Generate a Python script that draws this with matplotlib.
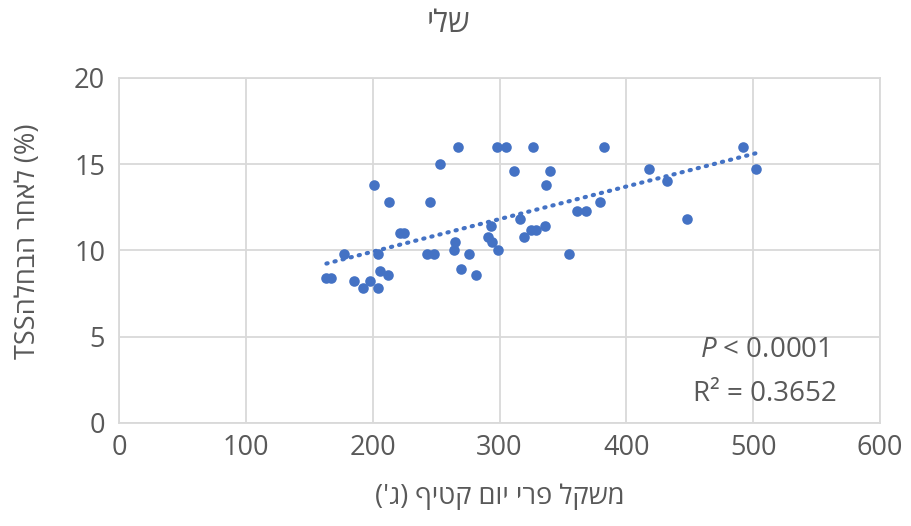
import numpy as np
import matplotlib
matplotlib.use("Agg")
import matplotlib.pyplot as plt

# ---- data ----
fruit_weight = [201, 213, 221.5, 224.5, 177, 204, 163.5, 167.5, 185, 198, 206, 212, 192.5, 204,
                267, 298, 305, 326, 382, 492,
                253, 311.5, 340, 336.5, 417.5, 432, 502,
                245, 379, 361, 368, 448, 316.5,
                293, 336, 325, 329, 319, 291, 294, 265,
                242.5, 248, 276, 355, 264, 299, 270, 281.5]
tss = [13.8, 12.8, 11.0, 11.0, 9.8, 9.8, 8.4, 8.4, 8.2, 8.2, 8.8, 8.6, 7.8, 7.8,
       16, 16, 16, 16, 16, 16,
       15, 14.6, 14.6, 13.8, 14.7, 14.0, 14.7,
       12.8, 12.8, 12.3, 12.3, 11.8, 11.8,
       11.4, 11.4, 11.2, 11.2, 10.8, 10.8, 10.5, 10.5,
       9.8, 9.8, 9.8, 9.8, 10.0, 10.0, 8.9, 8.6]

x_ticks = [0, 100, 200, 300, 400, 500, 600]
y_ticks = [0, 5, 10, 15, 20]

p_text = "< 0.0001"
r2_text = "R² = 0.3652"


def heb(s):
    # matplotlib has no bidi, so flip hebrew into visual order
    s = s[::-1]
    return s.translate(str.maketrans("()", ")("))


title = heb("שלי")
xlabel = heb("משקל פרי יום קטיף (ג')")
ylabel = "TSS" + heb("הבחלה") + " " + heb("לאחר") + " (%)"

FAM = ["Open Sans", "DejaVu Sans"]
plt.rcParams['font.family'] = FAM
plt.rcParams['mathtext.fontset'] = 'custom'
plt.rcParams['mathtext.it'] = 'Open Sans:italic'
plt.rcParams['mathtext.rm'] = 'Open Sans'

TXT = "#595959"
GRID = "#d9d9d9"
BLUE = "#4472c4"

fig = plt.figure(figsize=(9.12, 5.26), dpi=100)
ax = fig.add_axes([0.1305, 0.196, 0.8345, 0.656])

ax.scatter(fruit_weight, tss, s=58, color=BLUE, zorder=3, linewidths=0)

# linear trendline like excel's
k, b = np.polyfit(fruit_weight, tss, 1)
xs = np.array([min(fruit_weight), max(fruit_weight)])
ax.plot(xs, k * xs + b, color=BLUE, lw=3, linestyle=(0, (0.3, 1.7)),
        dash_capstyle='round', zorder=2)

ax.set_xlim(0, 600)
ax.set_ylim(0, 20)
ax.set_xticks(x_ticks)
ax.set_yticks(y_ticks)
ax.grid(True, color=GRID, lw=1.3)
ax.set_axisbelow(True)
for sp in ax.spines.values():
    sp.set_color(GRID)
    sp.set_linewidth(1.3)
ax.tick_params(length=0, labelsize=19.5, labelcolor=TXT)
ax.tick_params(axis='x', pad=8)
ax.tick_params(axis='y', pad=10)

ax.set_xlabel(xlabel, fontsize=19.5, color=TXT, va='center')
ax.xaxis.set_label_coords(0.5, -0.214)
ax.set_ylabel(ylabel, fontsize=19.5, color=TXT, va='center')
ax.yaxis.set_label_coords(-0.12, 0.525)
fig.text(0.492, 0.955, title, fontsize=22, color=TXT, ha='center', va='center')

ax.text(509, 4.2, r"$\it{P}$ " + p_text, fontsize=20, color=TXT,
        ha='center', va='center')
ax.text(509, 1.7, r2_text, fontsize=20, color=TXT, ha='center', va='center')

fig.savefig("out.png", dpi=100)
